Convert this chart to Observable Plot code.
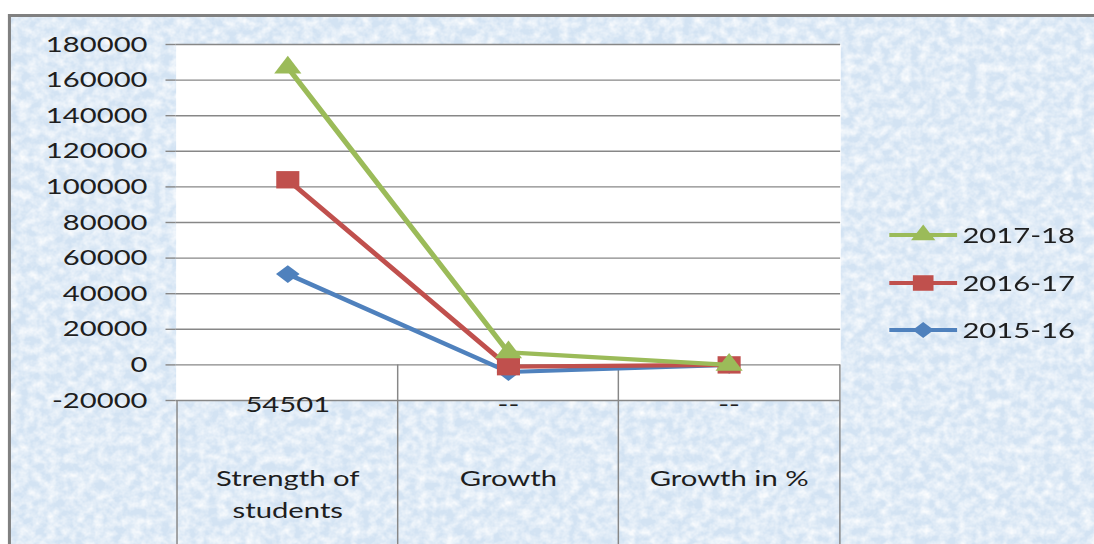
<!DOCTYPE html>
<html>
<head>
<meta charset="utf-8">
<script src="https://cdn.jsdelivr.net/npm/d3@7"></script>
<script src="https://cdn.jsdelivr.net/npm/@observablehq/plot@0.6"></script>
<style>
  html, body { margin: 0; padding: 0; background: #ffffff; overflow: hidden; }
  /* the chart is laid out in a narrower box and widened to the full page */
  #chart { width: 823px; height: 544px; transform: scaleX(1.3293); transform-origin: 0 0; }
</style>
</head>
<body>
<div id="chart"></div>
<script>
// ---- data ----
const categories = ["Strength of students", "Growth", "Growth in %"];
const categoryLabels = ["Strength of\nstudents", "Growth", "Growth in %"];
const tableRow = ["54501", "--", "--"];
const series = ["2015-16", "2016-17", "2017-18"];
const values2015 = [51000, -4000, 0];
const values2016 = [104000, -1000, 0];
const values2017 = [167000, 7000, 0];
const yTicks = [-20000, 0, 20000, 40000, 60000, 80000, 100000, 120000, 140000, 160000, 180000];

const seriesValues = [values2015, values2016, values2017];
const rows = series.flatMap((s, j) =>
  categories.map((c, i) => ({series: s, category: c, value: seriesValues[j][i]}))
);

// ---- style ----
const W = 823, H = 544;
const mL = 132, mR = 191, mT = 44, mB = 144;
const step = (W - mL - mR) / categories.length;
const grey = "#878787";
const ink = "#1e1e1e";
const colors = ["#4f81bd", "#c0504d", "#9bbb59"];
const symbols = ["diamond2", "square", "triangle"];
const d3Symbols = [d3.symbolDiamond2, d3.symbolSquare, d3.symbolTriangle];
const symbolR = [8, 9.8, 7.6];
const font = "Lato, 'Open Sans', sans-serif";
const yMin = yTicks[0];

const seriesMarks = series.flatMap((s, j) => {
  const data = rows.filter(d => d.series === s);
  return [
    Plot.line(data, {x: "category", y: "value", stroke: colors[j], strokeWidth: 4.2}),
    Plot.dot(data, {x: "category", y: "value", symbol: symbols[j], r: symbolR[j], fill: colors[j], stroke: "none"})
  ];
});

// column borders of the data table: they run from the axis down to the page bottom
const ruleStyle = {x: d => d, y2: yMin, insetBottom: -mB, stroke: grey, strokeWidth: 1.1};

const chart = Plot.plot({
  width: W,
  height: H,
  marginLeft: mL,
  marginRight: mR,
  marginTop: mT,
  marginBottom: mB,
  style: {fontFamily: font, background: "transparent", overflow: "visible"},
  x: {type: "point", domain: categories, padding: 0.5, axis: null},
  y: {domain: [yMin, yTicks[yTicks.length - 1]], axis: null},
  marks: [
    Plot.frame({fill: "white", stroke: null}),
    Plot.gridY(yTicks, {stroke: grey, strokeOpacity: 1, strokeWidth: 1.4}),
    Plot.axisY(yTicks, {
      label: null, tickSize: 7.5, tickPadding: 14, fontSize: 22,
      tickFormat: d => String(d), stroke: grey, strokeWidth: 1.4, fill: ink
    }),
    Plot.ruleX(categories.slice(0, 1), {...ruleStyle, dx: -step / 2, y1: yMin}),
    Plot.ruleX(categories.slice(1), {...ruleStyle, dx: -step / 2, y1: 0}),
    Plot.ruleX(categories.slice(-1), {...ruleStyle, dx: step / 2, y1: 0}),
    ...seriesMarks,
    Plot.text(categories, {
      x: d => d, text: (d, i) => tableRow[i], frameAnchor: "bottom",
      dy: 11, fontSize: 22, fill: ink
    }),
    Plot.text(categories, {
      x: d => d, text: (d, i) => categoryLabels[i], frameAnchor: "bottom",
      lineAnchor: "top", dy: 63, lineHeight: 1.45, fontSize: 22, fill: ink
    })
  ]
});

document.getElementById("chart").appendChild(chart);

// ---- textured background and frame ----
const svg = d3.select(chart);
const bg = svg.insert("g", ":first-child");
const defs = bg.append("defs");
const filter = defs.append("filter").attr("id", "mottle")
  .attr("x", 0).attr("y", 0).attr("width", "100%").attr("height", "100%");
filter.append("feTurbulence").attr("type", "fractalNoise")
  .attr("baseFrequency", "0.14 0.11").attr("numOctaves", 3).attr("seed", 11);
filter.append("feColorMatrix").attr("type", "matrix")
  .attr("values", "0 0 0 0 1  0 0 0 0 1  0 0 0 0 1  1.5 0 0 0 -0.45");

const bx = 7.5, by = 17;
bg.append("rect").attr("x", bx).attr("y", by).attr("width", W - bx).attr("height", H - by)
  .attr("fill", "#d3e3f3");
bg.append("rect").attr("x", bx).attr("y", by).attr("width", W - bx).attr("height", H - by)
  .attr("fill", "#ffffff").attr("filter", "url(#mottle)");
bg.append("line").attr("x1", 6).attr("x2", W).attr("y1", 15.5).attr("y2", 15.5)
  .attr("stroke", "#808080").attr("stroke-width", 3);
bg.append("line").attr("x1", 7.1).attr("x2", 7.1).attr("y1", 14).attr("y2", H)
  .attr("stroke", "#808080").attr("stroke-width", 2.3);

// ---- legend ----
const legendX0 = 669, legendX1 = 720, legendTextX = 724;
const legendY = [235, 283, 330];
const legendOrder = [2, 1, 0];
const legend = svg.append("g").attr("font-family", font).attr("font-size", 22)
  .attr("fill", ink).attr("text-anchor", "start");
legendOrder.forEach((j, k) => {
  const y = legendY[k];
  legend.append("line").attr("x1", legendX0).attr("x2", legendX1).attr("y1", y).attr("y2", y)
    .attr("stroke", colors[j]).attr("stroke-width", 4.2);
  legend.append("path")
    .attr("transform", `translate(${(legendX0 + legendX1) / 2},${y})`)
    .attr("d", d3.symbol(d3Symbols[j], symbolR[j] * symbolR[j] * Math.PI * 0.8)())
    .attr("fill", colors[j]);
  legend.append("text").attr("x", legendTextX).attr("y", y).attr("dy", "0.36em")
    .text(series[j]);
});
</script>
</body>
</html>
